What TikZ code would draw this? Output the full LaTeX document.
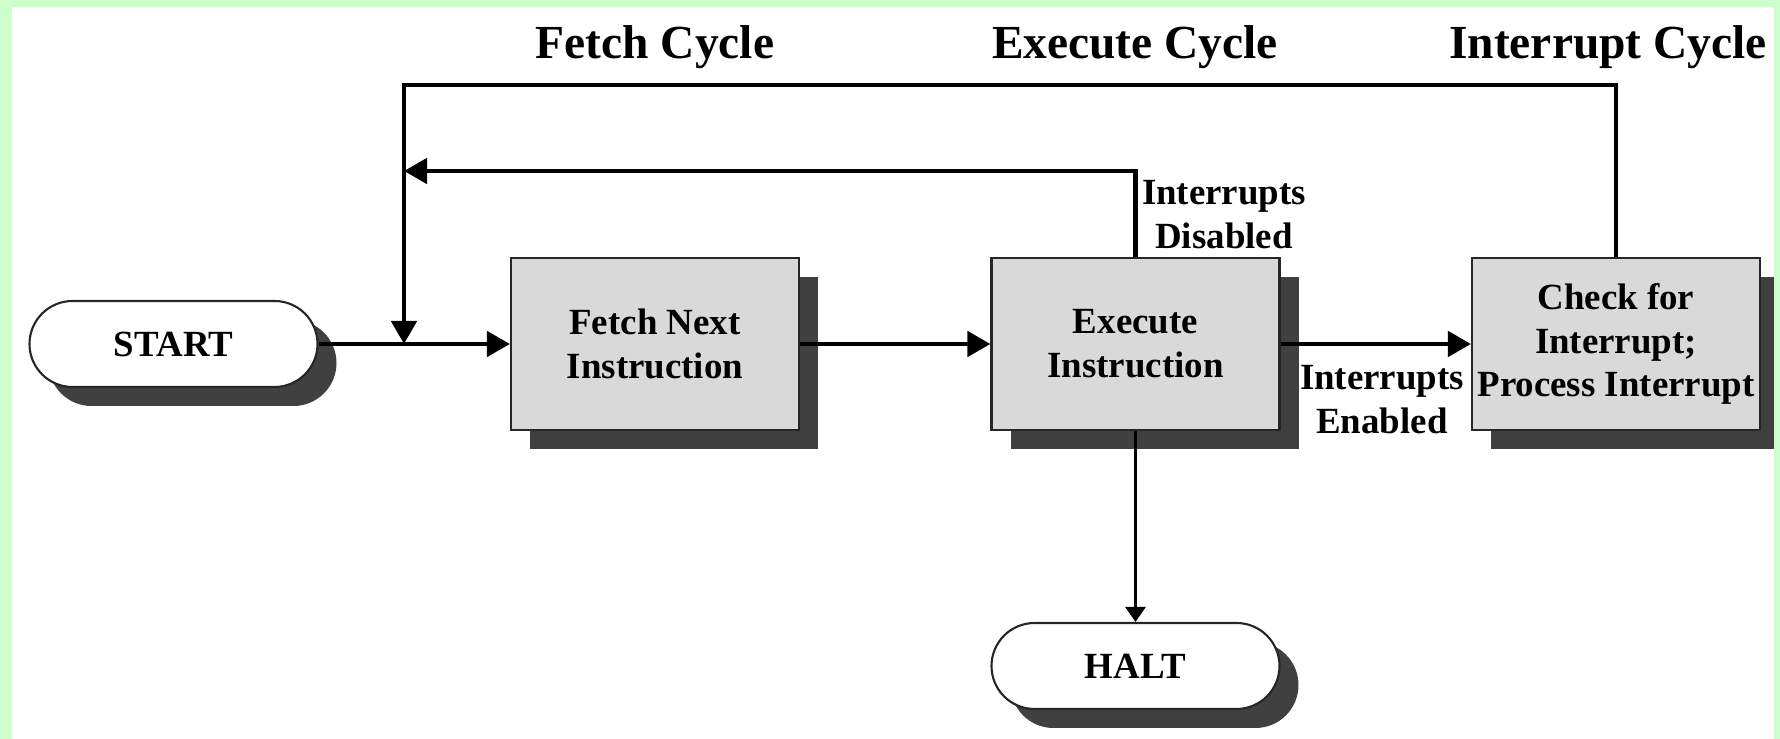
\documentclass[tikz,border=0pt]{standalone}
\usepackage{fontspec}
\setmainfont{Liberation Serif}
\usetikzlibrary{arrows.meta,shadows}

\definecolor{bordeverde}{RGB}{204,255,204}
\definecolor{cajagris}{RGB}{217,217,217}
\definecolor{sombra}{RGB}{64,64,64}

\tikzset{
    caja/.style={draw=black!85, line width=0.6pt, fill=cajagris, inner sep=0.5pt,
        minimum width=2.88cm, minimum height=1.72cm, align=center,
        font=\bfseries\fontsize{10.5}{12.5}\selectfont,
        drop shadow={shadow xshift=0.19cm, shadow yshift=-0.19cm, fill=sombra, opacity=1}},
    terminal/.style={rectangle, rounded corners=0.43cm, draw=black!85, line width=0.6pt, fill=white,
        minimum width=2.88cm, minimum height=0.86cm,
        font=\bfseries\fontsize{10.5}{12.5}\selectfont,
        drop shadow={shadow xshift=0.19cm, shadow yshift=-0.19cm, fill=sombra, opacity=1}},
    titulo/.style={anchor=base, font=\bfseries\fontsize{13.5}{16}\selectfont},
    etiqueta/.style={align=center, inner sep=0pt, font=\bfseries\fontsize{10.5}{12.5}\selectfont},
    flecha/.style={line width=1.3pt, -{Triangle[length=0.23cm,width=0.25cm]}},
    flechafina/.style={line width=0.8pt, -{Triangle[length=0.15cm,width=0.2cm]}}
}

\begin{document}
\begin{tikzpicture}
    % Fondo
    \useasboundingbox (0,0) rectangle (17.80,7.39);
    \fill[white] (0,0) rectangle (17.80,7.39);

    % Titulos de los ciclos
    \node[titulo] (tfetch) at (6.55,6.80) {Fetch Cycle};
    \node[titulo] (texec) at (11.35,6.80) {Execute Cycle};
    \node[titulo] (tint) at (16.08,6.80) {Interrupt Cycle};

    % Nodos
    \node[terminal] (start) at (1.735,3.95) {START};
    \node[caja] (fetch) at (6.55,3.95) {Fetch Next\\Instruction};
    \node[caja] (exec) at (11.355,3.95) {Execute\\Instruction};
    \node[caja] (check) at (16.16,3.95) {Check for\\Interrupt;\\Process Interrupt};
    \node[terminal] (halt) at (11.355,0.73) {HALT};

    % Puntos de los lazos
    \coordinate (union) at (4.04,3.95);
    \coordinate (arriba) at (4.04,6.54);
    \coordinate (medio) at (4.04,5.68);

    % Flujo principal
    \draw[flecha] (start) -- (fetch);
    \draw[flecha] (fetch) -- (exec);
    \draw[flecha] (exec) -- (check);
    \draw[flechafina] (exec) -- (halt);

    % Lazos de regreso
    \draw[flecha] (check.north) |- (arriba) -- (union);
    \draw[flecha] (exec.north) |- (medio);

    % Etiquetas
    \node[etiqueta] (desact) at (12.24,5.24) {Interrupts\\Disabled};
    \node[etiqueta] (activ) at (13.82,3.39) {Interrupts\\Enabled};

    % Borde verde
    \fill[bordeverde] (0,0) rectangle (0.12,7.39);
    \fill[bordeverde] (0,7.32) rectangle (17.80,7.39);
    \fill[bordeverde] (17.74,0) rectangle (17.80,7.39);
\end{tikzpicture}
\end{document}
